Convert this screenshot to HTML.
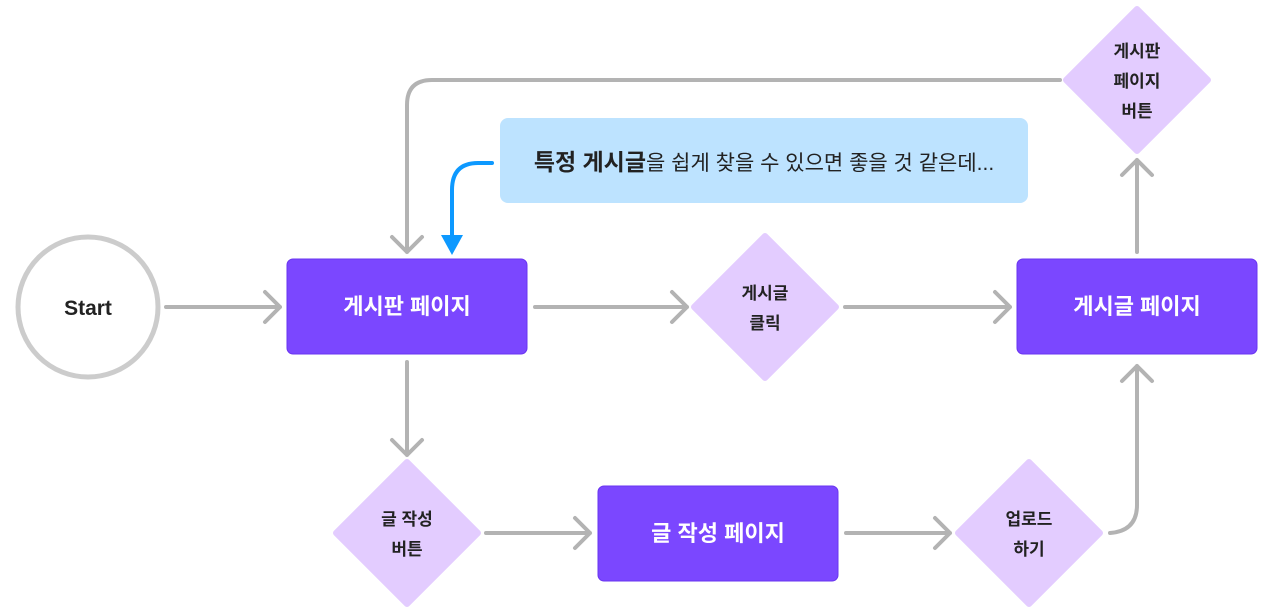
<!DOCTYPE html>
<html><head><meta charset="utf-8"><style>
html,body{margin:0;padding:0;background:#fff;width:1280px;height:615px;overflow:hidden}
text{font-family:"Liberation Sans","Noto Sans CJK KR",sans-serif;font-weight:bold}
</style></head><body>
<svg width="1280" height="615" viewBox="0 0 1280 615" xmlns="http://www.w3.org/2000/svg">
<g fill="none" stroke="#b3b3b3" stroke-width="4" stroke-linecap="round" stroke-linejoin="round">
<circle cx="88" cy="307" r="70" stroke="#cccccc" stroke-width="5" fill="#fff"/>
<path d="M166 307H280M265 292L280 307L265 322"/>
<path d="M535 307H687M672 292L687 307L672 322"/>
<path d="M845 307H1010M995 292L1010 307L995 322"/>
<path d="M407 362V455M392 440L407 455L422 440"/>
<path d="M486 533H590M575 518L590 533L575 548"/>
<path d="M846 533H950M935 518L950 533L935 548"/>
<path d="M1110 533Q1137 531 1137 505V366M1122 381L1137 366L1152 381"/>
<path d="M1137 252V160M1122 175L1137 160L1152 175"/>
<path d="M1060 80H432Q407 80 407 105V252M392 237L407 252L422 237"/>
</g>
<path d="M492 163H478Q452 163 452 190V238" fill="none" stroke="#0d99ff" stroke-width="4" stroke-linecap="round"/>
<path d="M441 235H463L452 255Z" fill="#0d99ff"/>
<rect x="500" y="118" width="528" height="85" rx="8" fill="#bde3ff"/>
<text x="764" y="170" text-anchor="middle" font-size="21" fill="#222"><tspan font-size="23">특정 게시글</tspan><tspan font-weight="normal">을 쉽게 찾을 수 있으면 좋을 것 같은데...</tspan></text>
<g fill="#7b47ff" stroke="#6a35f0" stroke-width="1">
<rect x="287" y="259" width="240" height="95" rx="6"/>
<rect x="1017" y="259" width="240" height="95" rx="6"/>
<rect x="598" y="486" width="240" height="95" rx="6"/>
</g>
<g fill="#e3ccff">
<path d="M765 236L836 307L765 378L694 307Z" stroke="#e3ccff" stroke-width="6" stroke-linejoin="round"/>
<path d="M407 462L478 533L407 604L336 533Z" stroke="#e3ccff" stroke-width="6" stroke-linejoin="round"/>
<path d="M1029 462L1100 533L1029 604L958 533Z" stroke="#e3ccff" stroke-width="6" stroke-linejoin="round"/>
<path d="M1137 9L1208 80L1137 151L1066 80Z" stroke="#e3ccff" stroke-width="6" stroke-linejoin="round"/>
</g>
<text x="88" y="315" text-anchor="middle" font-size="21" fill="#222">Start</text>
<g fill="#fff" font-size="22" text-anchor="middle">
<text x="407" y="314">게시판 페이지</text>
<text x="1137" y="314">게시글  페이지</text>
<text x="718" y="541">글 작성 페이지</text>
</g>
<g fill="#222" font-size="17" text-anchor="middle">
<text x="765" y="299">게시글</text><text x="765" y="329">클릭</text>
<text x="407" y="525">글 작성</text><text x="407" y="555">버튼</text>
<text x="1029" y="525">업로드</text><text x="1029" y="555">하기</text>
<text x="1137" y="57">게시판</text><text x="1137" y="87">페이지</text><text x="1137" y="117">버튼</text>
</g>
</svg>
</body></html>
